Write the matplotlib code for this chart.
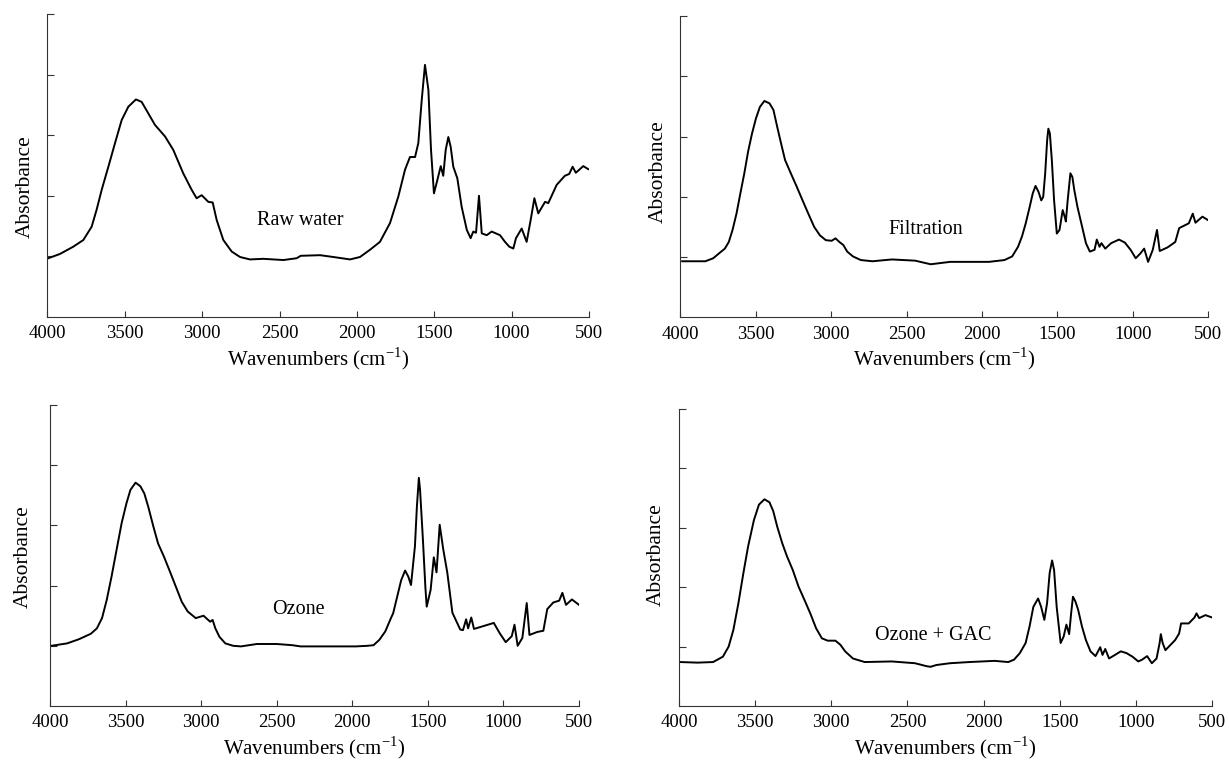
import matplotlib
matplotlib.use("Agg")
import matplotlib.pyplot as plt

plt.rcParams['font.family'] = ['Liberation Serif', 'DejaVu Serif']

# Raw water
raw_x = [3994, 3919, 3833, 3768, 3714, 3682, 3649, 3606, 3563, 3520, 3477, 3428, 3391, 3348,
         3305, 3240, 3187, 3122, 3068, 3036, 3003, 2960, 2932, 2906, 2863, 2809, 2755, 2691,
         2605, 2475, 2389, 2363, 2238, 2152, 2044, 1980, 1915, 1851, 1786, 1732, 1689, 1657,
         1624, 1603, 1581, 1560, 1538, 1521, 1502, 1480, 1458, 1442, 1426, 1409, 1394, 1377,
         1351, 1323, 1290, 1265, 1248, 1230, 1211, 1193, 1161, 1129, 1075, 1043, 1015, 989,
         972, 935, 903, 877, 853, 828, 784, 763, 709, 656, 628, 606, 585, 537, 505]
raw_y = [0.97, 1.04, 1.16, 1.27, 1.49, 1.77, 2.10, 2.48, 2.87, 3.25, 3.47, 3.59, 3.55, 3.36,
         3.17, 2.98, 2.76, 2.37, 2.10, 1.96, 2.01, 1.90, 1.89, 1.60, 1.27, 1.08, 0.99, 0.95,
         0.96, 0.94, 0.97, 1.01, 1.02, 0.99, 0.95, 0.99, 1.11, 1.24, 1.55, 1.99, 2.43, 2.64,
         2.64, 2.87, 3.58, 4.16, 3.75, 2.76, 2.04, 2.26, 2.49, 2.33, 2.76, 2.97, 2.81, 2.48,
         2.29, 1.82, 1.44, 1.30, 1.41, 1.39, 2.00, 1.38, 1.35, 1.41, 1.35, 1.24, 1.16, 1.13,
         1.30, 1.46, 1.24, 1.60, 1.96, 1.71, 1.90, 1.88, 2.18, 2.33, 2.36, 2.48, 2.38, 2.49, 2.44]

# Filtration
filt_x = [3987, 3884, 3833, 3781, 3743, 3704, 3678, 3653, 3627, 3601, 3575, 3550, 3524, 3498,
          3472, 3442, 3408, 3382, 3357, 3331, 3305, 3267, 3228, 3189, 3151, 3112, 3074, 3035,
          2996, 2971, 2945, 2919, 2893, 2855, 2803, 2726, 2597, 2443, 2340, 2211, 1954, 1851,
          1800, 1761, 1735, 1710, 1684, 1663, 1645, 1625, 1607, 1594, 1581, 1568, 1560, 1550,
          1537, 1522, 1504, 1486, 1465, 1452, 1444, 1432, 1414, 1401, 1388, 1367, 1336, 1311,
          1285, 1254, 1239, 1221, 1208, 1183, 1144, 1092, 1053, 1015, 981, 950, 925, 899, 868,
          840, 822, 770, 719, 693, 629, 603, 585, 539, 500]
filt_y = [0.93, 0.93, 0.93, 0.98, 1.06, 1.14, 1.25, 1.45, 1.72, 2.06, 2.39, 2.75, 3.05, 3.30,
          3.49, 3.59, 3.55, 3.44, 3.16, 2.88, 2.61, 2.39, 2.17, 1.94, 1.72, 1.50, 1.36, 1.28,
          1.27, 1.31, 1.25, 1.20, 1.09, 1.01, 0.95, 0.93, 0.96, 0.94, 0.88, 0.92, 0.92, 0.95,
          1.01, 1.17, 1.34, 1.56, 1.83, 2.06, 2.18, 2.08, 1.94, 2.00, 2.39, 2.94, 3.13, 3.05,
          2.61, 1.94, 1.39, 1.45, 1.78, 1.67, 1.59, 1.94, 2.39, 2.33, 2.11, 1.83, 1.50, 1.23,
          1.09, 1.12, 1.29, 1.17, 1.23, 1.14, 1.23, 1.29, 1.24, 1.12, 0.98, 1.06, 1.14, 0.92,
          1.12, 1.45, 1.10, 1.16, 1.25, 1.48, 1.56, 1.72, 1.57, 1.67, 1.61]

# Ozone
ozone_x = [3992, 3888, 3809, 3731, 3691, 3657, 3626, 3594, 3561, 3527, 3495, 3469, 3435, 3403,
           3377, 3351, 3317, 3286, 3247, 3207, 3168, 3129, 3090, 3037, 3011, 2985, 2959, 2941,
           2925, 2907, 2880, 2841, 2789, 2737, 2632, 2501, 2397, 2344, 2109, 1978, 1900, 1860,
           1821, 1782, 1743, 1730, 1703, 1677, 1651, 1630, 1612, 1586, 1573, 1560, 1552, 1533,
           1517, 1508, 1482, 1461, 1443, 1422, 1399, 1372, 1338, 1286, 1268, 1247, 1234, 1213,
           1195, 1064, 1025, 985, 945, 927, 906, 875, 846, 828, 776, 736, 710, 670, 631, 610,
           586, 547, 500]
ozone_y = [1.00, 1.04, 1.11, 1.20, 1.29, 1.46, 1.76, 2.15, 2.59, 3.04, 3.37, 3.59, 3.71, 3.65,
           3.53, 3.31, 2.98, 2.70, 2.48, 2.23, 1.98, 1.73, 1.57, 1.46, 1.48, 1.50, 1.44, 1.40,
           1.43, 1.29, 1.15, 1.04, 1.00, 0.99, 1.03, 1.03, 1.01, 0.99, 0.99, 0.99, 1.00, 1.01,
           1.10, 1.24, 1.47, 1.54, 1.82, 2.09, 2.25, 2.15, 2.01, 2.65, 3.31, 3.79, 3.59, 2.76,
           1.98, 1.65, 1.93, 2.47, 2.22, 3.01, 2.61, 2.22, 1.55, 1.27, 1.26, 1.44, 1.29, 1.47,
           1.28, 1.38, 1.21, 1.06, 1.16, 1.35, 1.00, 1.13, 1.71, 1.18, 1.23, 1.25, 1.61, 1.72,
           1.75, 1.88, 1.68, 1.77, 1.68]

# Ozone + GAC
gac_x = [3992, 3878, 3776, 3712, 3674, 3643, 3610, 3577, 3546, 3508, 3475, 3439, 3406, 3381,
         3355, 3322, 3291, 3253, 3215, 3177, 3138, 3100, 3062, 3024, 2973, 2940, 2909, 2858,
         2781, 2603, 2450, 2374, 2348, 2310, 2221, 2093, 1928, 1838, 1800, 1762, 1724, 1698,
         1673, 1642, 1622, 1601, 1583, 1566, 1550, 1537, 1520, 1494, 1474, 1456, 1438, 1425,
         1413, 1397, 1379, 1354, 1328, 1298, 1265, 1234, 1219, 1201, 1176, 1137, 1099, 1061,
         1022, 984, 959, 926, 895, 864, 844, 836, 824, 806, 742, 716, 703, 653, 615, 602, 584,
         543, 500]
gac_y = [0.74, 0.73, 0.74, 0.83, 1.00, 1.28, 1.73, 2.24, 2.69, 3.13, 3.39, 3.48, 3.43, 3.28,
         3.02, 2.74, 2.52, 2.29, 2.01, 1.79, 1.56, 1.31, 1.14, 1.10, 1.10, 1.03, 0.92, 0.80,
         0.74, 0.75, 0.72, 0.67, 0.66, 0.69, 0.72, 0.74, 0.76, 0.74, 0.78, 0.89, 1.06, 1.34,
         1.67, 1.81, 1.67, 1.45, 1.73, 2.24, 2.45, 2.29, 1.67, 1.06, 1.17, 1.37, 1.21, 1.56,
         1.84, 1.76, 1.62, 1.34, 1.11, 0.92, 0.84, 0.99, 0.86, 0.96, 0.80, 0.86, 0.92, 0.89,
         0.83, 0.75, 0.78, 0.84, 0.72, 0.80, 1.06, 1.21, 1.06, 0.94, 1.11, 1.22, 1.39, 1.39,
         1.49, 1.56, 1.48, 1.53, 1.49]

names = ["Raw water", "Filtration", "Ozone", "Ozone + GAC"]
series = [(raw_x, raw_y), (filt_x, filt_y), (ozone_x, ozone_y), (gac_x, gac_y)]
label_pos = [(2368, 1.60), (2371, 1.45), (2357, 1.61), (2332, 1.18)]
xticks = [4000, 3500, 3000, 2500, 2000, 1500, 1000, 500]

# axes boxes in pixels (left, top, right, bottom) measured on the 1229x764 picture
W, H = 1229, 764
px_boxes = [(47.4, 14, 589, 317),
            (680.2, 16, 1208.3, 317.3),
            (50.2, 405, 579, 706),
            (679, 409, 1212, 706)]
ylabel_xy = [(-0.024, 0.43), (-0.023, 0.485), (-0.032, 0.495), (-0.025, 0.51)]

fig = plt.figure(figsize=(W / 100, H / 100), dpi=100)
for i in range(4):
    l, t, r, b = px_boxes[i]
    ax = fig.add_axes([l / W, 1 - b / H, (r - l) / W, (b - t) / H])
    x, y = series[i]
    ax.plot(x, y, color='black', lw=1.4, solid_joinstyle='round')
    ax.set_xlim(4000, 500)
    ax.set_ylim(0, 5)
    ax.set_xticks(xticks)
    ax.set_yticks([1, 2, 3, 4, 5])
    ax.set_yticklabels([])
    ax.spines['top'].set_visible(False)
    ax.spines['right'].set_visible(False)
    ax.spines['left'].set_color('#333333')
    ax.spines['bottom'].set_color('#333333')
    ax.tick_params(axis='y', direction='in', length=5, color='#333333')
    ax.tick_params(axis='x', direction='in', length=4, color='#333333',
                   labelsize=13.5, pad=6)
    ax.set_xlabel("Wavenumbers (cm$^{\\mathregular{-1}}$)", fontsize=15, labelpad=2)
    ax.set_ylabel("Absorbance", fontsize=15.5)
    ax.yaxis.set_label_coords(*ylabel_xy[i])
    ax.text(label_pos[i][0], label_pos[i][1], names[i], fontsize=14.5,
            ha='center', va='center')

fig.savefig("out.png", dpi=100)
